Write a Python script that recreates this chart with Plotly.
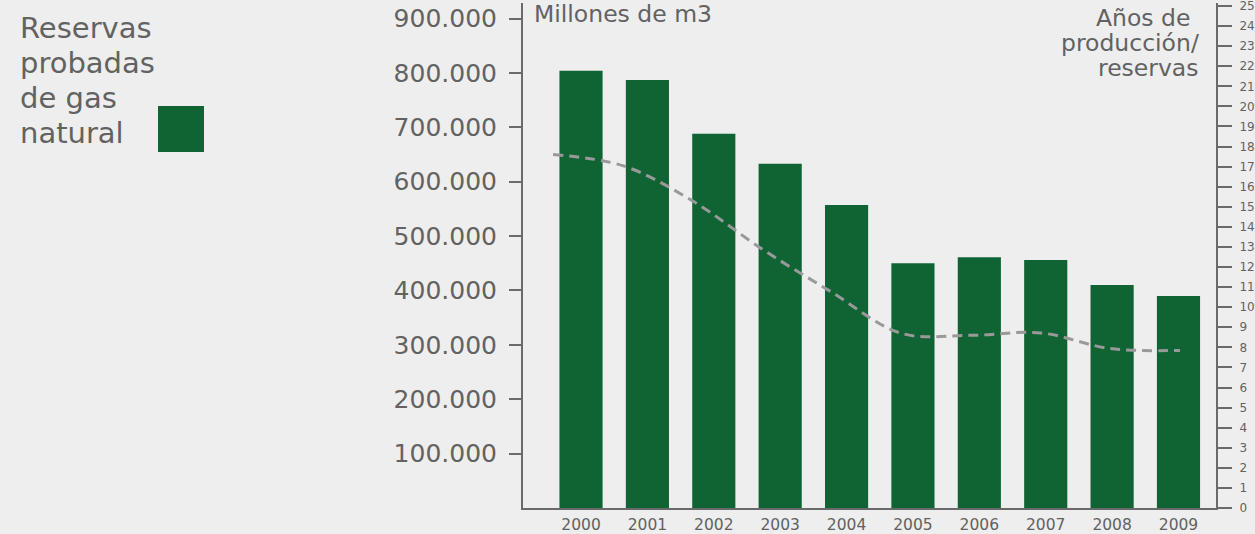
import plotly.graph_objects as go

# ---------------- data ----------------
years = [2000, 2001, 2002, 2003, 2004, 2005, 2006, 2007, 2008, 2009]
reserves = [804000, 787000, 688000, 633000, 557000, 450000, 461000, 456000, 410000, 390000]
ratio_years = [2000, 2001, 2002, 2003, 2004, 2005, 2006, 2007, 2008, 2009]
ratio = [17.6, 17.05, 15.3, 12.9, 10.75, 8.7, 8.6, 8.72, 7.94, 7.85]
left_ticks = [100000, 200000, 300000, 400000, 500000, 600000, 700000, 800000, 900000]
left_labels = ["100.000", "200.000", "300.000", "400.000", "500.000",
               "600.000", "700.000", "800.000", "900.000"]
right_ticks = list(range(0, 26))
legend_lines = ["Reservas", "probadas", "de gas", "natural"]
left_title = "Millones de m3"
right_title_lines = ["Años de", "producción/", "reservas"]

# ---------------- style ----------------
BG = "#eeeeee"
GREEN = "#106434"
TEXT = "#626262"
AXIS = "#6a6a6a"
FONT = "DejaVu Sans"
W, H = 1255, 534
L, R, T, B = 523, 39, 3, 26
PW, PH = W - L - R, H - T - B


def px(x):
    return (x - L) / PW


def py(y):
    return (H - B - y) / PH


fig = go.Figure()
fig.add_trace(go.Bar(x=years, y=reserves, marker=dict(color=GREEN, line=dict(width=0)),
                     width=0.65, name="Reservas probadas de gas natural",
                     showlegend=False))
fig.add_trace(go.Scatter(x=ratio_years, y=ratio, mode="lines", xaxis="x2", yaxis="y2",
                         line=dict(color="#999999", width=3, dash="10px,6px",
                                   shape="spline", smoothing=1.0),
                         showlegend=False))

annotations = []
# legend text
for i, t in enumerate(legend_lines):
    base = 38 + 35 * i
    annotations.append(dict(text=t, xref="paper", yref="paper", x=px(18), y=py(base - 0.35 * 29),
                            xanchor="left", yanchor="middle", showarrow=False,
                            font=dict(family=FONT, size=29, color=TEXT)))
annotations.append(dict(text=left_title, xref="paper", yref="paper", x=px(532), y=py(22.7 - 0.35 * 23.5),
                        xanchor="left", yanchor="middle", showarrow=False,
                        font=dict(family=FONT, size=23.5, color=TEXT)))
rt_x = [1192, 1201, 1201]
rt_base = [26, 51, 76]
for t, xx, bb in zip(right_title_lines, rt_x, rt_base):
    annotations.append(dict(text=t, xref="paper", yref="paper", x=px(xx), y=py(bb - 0.35 * 23.5),
                            xanchor="right", yanchor="middle", showarrow=False,
                            font=dict(family=FONT, size=23.5, color=TEXT)))

shapes = [dict(type="rect", xref="paper", yref="paper", x0=px(158), x1=px(204),
               y0=py(152), y1=py(106), fillcolor=GREEN, line=dict(width=0), layer="above")]

fig.update_layout(
    width=W, height=H,
    margin=dict(l=L, r=R, t=T, b=B, pad=0, autoexpand=False),
    paper_bgcolor=BG, plot_bgcolor=BG,
    font=dict(family=FONT, color=TEXT),
    showlegend=False,
    bargap=0.35,
    xaxis=dict(range=[1999.126, 2009.565], tickmode="array", tickvals=years,
               ticktext=[str(y) for y in years], showgrid=False, zeroline=False,
               showline=True, linecolor=AXIS, linewidth=2, ticks="",
               tickfont=dict(family=FONT, size=15.5, color=TEXT), ticklabelstandoff=1,
               automargin=False, ticklabeloverflow="allow", fixedrange=True),
    xaxis2=dict(range=[1999.569, 2009.517], overlaying="x", visible=False, fixedrange=True),
    yaxis=dict(range=[0, 928500], tickmode="array", tickvals=left_ticks, ticktext=left_labels,
               showgrid=False, zeroline=False, showline=True, linecolor=AXIS, linewidth=2,
               ticks="outside", ticklen=12, tickwidth=2, tickcolor=AXIS,
               tickfont=dict(family=FONT, size=25, color=TEXT), ticklabelstandoff=7,
               automargin=False, ticklabeloverflow="allow", fixedrange=True),
    yaxis2=dict(range=[0, 25.15], overlaying="y", side="right", anchor="x",
                tickmode="array", tickvals=right_ticks, ticktext=[str(v) for v in right_ticks],
                showgrid=False, zeroline=False, showline=True, linecolor=AXIS, linewidth=2,
                ticks="outside", ticklen=14, tickwidth=2, tickcolor=AXIS,
                tickfont=dict(family=FONT, size=12, color=TEXT), ticklabelstandoff=5,
                automargin=False, ticklabeloverflow="allow", fixedrange=True),
    annotations=annotations,
    shapes=shapes,
)

fig.write_html(
    "out.html",
    config={"displayModeBar": False},
    post_script="document.body.style.margin='0';document.body.style.padding='0';"
                "document.body.style.overflow='hidden';"
                "document.body.style.background='#eeeeee';",
)
